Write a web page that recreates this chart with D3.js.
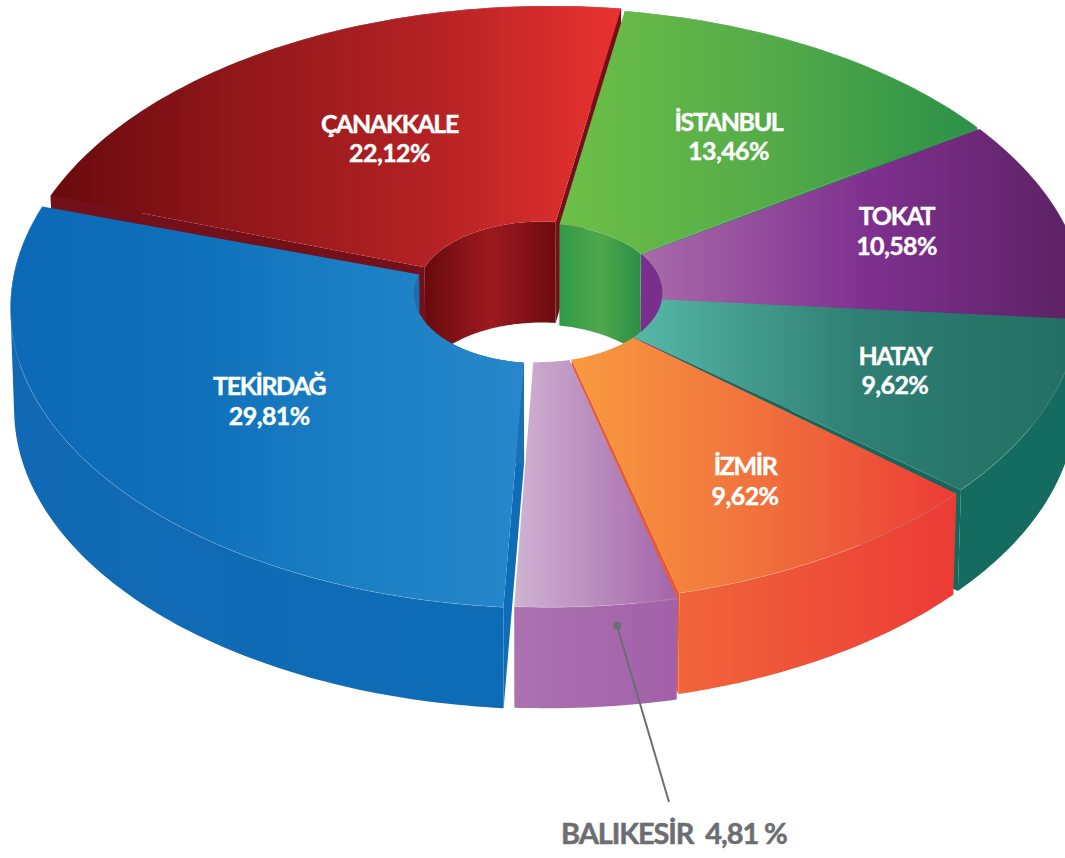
<!DOCTYPE html>
<html>
<head>
<meta charset="utf-8">
<script src="https://cdn.jsdelivr.net/npm/d3@7"></script>
<style>
body { margin: 0; background: #fff; }
text { font-family: Lato, "Open Sans", sans-serif; font-weight: 700; }
</style>
</head>
<body>
<div id="chart"></div>
<script>
// data
var cities = ["TEKİRDAĞ", "ÇANAKKALE", "İSTANBUL", "TOKAT", "HATAY", "İZMİR", "BALIKESİR"];
var shares = [29.81, 22.12, 13.46, 10.58, 9.62, 9.62, 4.81];
var shareLabels = ["29,81%", "22,12%", "13,46%", "10,58%", "9,62%", "9,62%", "4,81 %"];

var width = 1065, height = 858;

// gradients for the top faces, the outer walls, the inner walls and the cut sides
var topColors = [
    ["#0c69b5", "#0f6fba", "#1b7fc4", "#2787ca"],
    ["#680a0d", "#92171a", "#b42224", "#e9322f"],
    ["#6cbf46", "#55ab49", "#2b9148"],
    ["#a96ba9", "#7f3190", "#5a2060"],
    ["#57b8a8", "#2f7f74", "#226e62"],
    ["#f89a40", "#f0703c", "#ec3b36"],
    ["#cfb3d2", "#a364a9"]
];
var wallColors = [
    ["#1169b3", "#0e6cb7"],
    ["#74101a", "#74101a"],
    ["#2f9a48", "#2f9a48"],
    ["#5d2163", "#5d2163"],
    ["#146b60", "#146b60"],
    ["#f0653a", "#ec3b36"],
    ["#ab72b0", "#a260a8"]
];
var innerColors = [
    ["#1b6fb5", "#1b6fb5"],
    ["#680a0d", "#9d1a20", "#6d0b10"],
    ["#2f9a48", "#4fa84b", "#2a8f45"],
    ["#7b2f8c", "#7b2f8c"],
    ["#2f7f74", "#2f7f74"],
    ["#f0653a", "#f0653a"],
    ["#ab72b0", "#ab72b0"]
];
var sideColors = ["#0f6cb7", "#74101a", "#2b9448", "#6d2876", "#15675c", "#ee5a2a", "#a865ac"];

// the slices are pulled apart a little: px shift of the whole slice, px shift
// of the rim only, degrees cut off each end, and extra degrees at the hole
var shifts = [[1, 1], [4, -2], [0, 0], [0, 0], [0, 0], [0, 0], [0, 0]];
var rimShifts = [[0, 0], [0, 0], [0, 0], [0, 0], [-6, -6], [-8, -4], [0, 0]];
var trims = [[0.9, 1.7], [0, -0.75], [1.6, 0.9], [-0.5, -1.5], [0.7, 0], [0.4, 0.6], [0.4, 0.3]];
var holeTrims = [[3.5, 2], [0, 2.8], [0, 0], [0, 0], [0, 0], [0, 0], [0, 0]];
var labelRadius = [0.61, 0.58, 0.63, 0.71, 0.72, 0.75, 0];
var labelNudge = [[5, 5], [8, -9], [11, -1], [-13, -12], [-7, -8.5], [-16, -8], [0, 0]];

// disc projection
var cx = 531, cy = 292, a = 537, b = 298.7, k = 0.052, m = 0.031;
var innerR = 0.232, holeShift = 6, depth = 101, bottomShrink = 0.993;
var rad = Math.PI / 180;

function project(angle, r, z, rim) {
    var X = r * Math.sin(angle), Y = r * Math.cos(angle);
    var den = 1 + k * Y - m * X;
    var px = a * X / den, py = -b * Y / den;
    if (z) px *= bottomShrink;
    px += holeShift * (1 - r) / (1 - innerR);
    if (rim) {
        var w = (r - innerR) / (1 - innerR);
        px += rim[0] * w;
        py += rim[1] * w;
    }
    return [cx + px, cy + py + (z ? depth : 0)];
}

var pie = d3.pie().sort(null)
    .startAngle(182 * rad)
    .endAngle((182 + 360) * rad);
var slices = pie(shares).map(function (s, i) {
    return {
        i: i,
        startAngle: s.startAngle + trims[i][0] * rad,
        endAngle: s.endAngle - trims[i][1] * rad,
        holeStart: s.startAngle + (trims[i][0] + holeTrims[i][0]) * rad,
        holeEnd: s.endAngle - (trims[i][1] + holeTrims[i][1]) * rad
    };
});

var line = d3.line();

function rimAngle(s, r, edge) {
    if (r === innerR) return edge === 0 ? s.holeStart : s.holeEnd;
    return edge === 0 ? s.startAngle : s.endAngle;
}

function arcPoints(s, r, z, reverse) {
    var a0 = rimAngle(s, r, 0), a1 = rimAngle(s, r, 1);
    var n = Math.max(8, Math.ceil((a1 - a0) * 60));
    var pts = d3.range(n + 1).map(function (i) {
        return project(a0 + (a1 - a0) * i / n, r, z, rimShifts[s.i]);
    });
    return reverse ? pts.reverse() : pts;
}
function closed(pts) { return line(pts) + "Z"; }

// wall between two arcs, made of small quads so the silhouette stays straight
function wallPath(s, r) {
    var t = arcPoints(s, r, false), u = arcPoints(s, r, true);
    return d3.range(t.length - 1).map(function (i) {
        var q = [t[i], t[i + 1], u[i + 1], u[i]];
        if (d3.polygonArea(q) < 0) q.reverse();
        return closed(q);
    }).join("");
}

var svg = d3.select("#chart").append("svg")
    .attr("width", width)
    .attr("height", height);
var defs = svg.append("defs");

function gradient(id, colors) {
    var g = defs.append("linearGradient").attr("id", id);
    colors.forEach(function (c, i) {
        g.append("stop").attr("offset", i / (colors.length - 1)).attr("stop-color", c);
    });
    return "url(#" + id + ")";
}

var groups = slices.map(function (s, i) {
    return { s: s, i: i, top: gradient("top" + i, topColors[i]), wall: gradient("wall" + i, wallColors[i]), inner: gradient("inner" + i, innerColors[i]) };
});

function place(sel, i) {
    return sel.attr("transform", "translate(" + shifts[i][0] + "," + shifts[i][1] + ")");
}

function drawInner(i) {
    var d = groups[i];
    place(svg.append("path"), i)
        .attr("d", closed(arcPoints(d.s, innerR, false).concat(arcPoints(d.s, innerR, true, true))))
        .attr("fill", d.inner);
}

// a cut side only shows when it faces the viewer
var paintOrder = [1, 2, 3, 4, 5, 6, 0];
paintOrder.forEach(function (i) {
    var s = groups[i].s;
    [[0, -1], [1, 1]].forEach(function (e) {
        var outerA = rimAngle(s, 1, e[0]), holeA = rimAngle(s, innerR, e[0]);
        if (Math.sin(outerA) * e[1] <= 0) return;
        var rim = rimShifts[i];
        place(svg.append("path"), i)
            .attr("d", closed([project(holeA, innerR, false, rim), project(outerA, 1, false, rim), project(outerA, 1, true, rim), project(holeA, innerR, true, rim)]))
            .attr("fill", sideColors[i]);
    });
});

[0, 3, 2, 1].forEach(drawInner);

// back to front
paintOrder.forEach(function (i) {
    var d = groups[i], s = d.s;
    var g = place(svg.append("g"), i);

    g.append("path")
        .attr("d", wallPath(s, 1))
        .attr("fill", d.wall);

    g.append("path")
        .attr("d", closed(arcPoints(s, 1, false).concat(arcPoints(s, innerR, false, true))))
        .attr("fill", d.top);

    // thin highlight where the top meets the wall
    g.append("path")
        .attr("d", line(arcPoints(s, 1, false)))
        .attr("fill", "none")
        .attr("stroke", "#fff")
        .attr("stroke-opacity", 0.25)
        .attr("stroke-width", 0.7);
});

// labels on the slices
groups.forEach(function (d) {
    if (!labelRadius[d.i]) return;
    var mid = (d.s.startAngle + d.s.endAngle) / 2;
    var p = project(mid, labelRadius[d.i]);
    var x = p[0] + labelNudge[d.i][0], y = p[1] + labelNudge[d.i][1];
    var t = svg.append("text")
        .attr("text-anchor", "middle")
        .attr("fill", "#fff")
        .attr("stroke", "#fff")
        .attr("stroke-width", 0.4)
        .attr("font-size", 25);
    t.append("tspan").attr("x", x).attr("y", y - 6).attr("letter-spacing", -1.4).text(cities[d.i]);
    t.append("tspan").attr("x", x).attr("y", y + 23.5).attr("letter-spacing", -0.6).text(shareLabels[d.i]);
});

// Balikesir is too thin, label sits below with a leader
var dot = project(171.3 * rad, 1);
var dotY = dot[1] + 21;
svg.append("line")
    .attr("x1", dot[0]).attr("y1", dotY)
    .attr("x2", 669).attr("y2", 802)
    .attr("stroke", "#6d6e71").attr("stroke-width", 2);
svg.append("circle")
    .attr("cx", dot[0]).attr("cy", dotY).attr("r", 4)
    .attr("fill", "#6d6e71");
svg.append("text")
    .attr("x", 561).attr("y", 844)
    .attr("fill", "#6d6e71")
    .attr("stroke", "#6d6e71")
    .attr("stroke-width", 0.5)
    .attr("font-size", 29)
    .attr("letter-spacing", -1.1)
    .attr("xml:space", "preserve")
    .text(cities[6] + "  " + shareLabels[6]);
</script>
</body>
</html>
